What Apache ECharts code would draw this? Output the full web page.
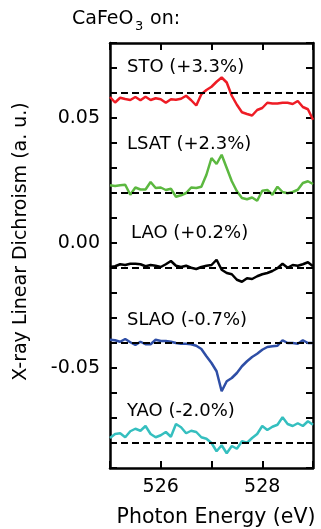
<!DOCTYPE html>
<html>
<head>
<meta charset="utf-8">
<script src="https://cdn.jsdelivr.net/npm/echarts@6/dist/echarts.min.js"></script>
<style>
  html, body { margin: 0; padding: 0; background: #fff; }
  #chart { width: 321px; height: 529px; }
</style>
</head>
<body>
<div id="chart"></div>
<script>
// photon energy grid (eV)
var energy = [525.0, 525.1, 525.2, 525.3, 525.4, 525.5, 525.6, 525.7, 525.8, 525.9,
  526.0, 526.1, 526.2, 526.3, 526.4, 526.5, 526.6, 526.7, 526.8, 526.9,
  527.0, 527.1, 527.2, 527.3, 527.4, 527.5, 527.6, 527.7, 527.8, 527.9,
  528.0, 528.1, 528.2, 528.3, 528.4, 528.5, 528.6, 528.7, 528.8, 528.9, 529.0];

// XLD spectra (offset)
var sto = [0.0584, 0.0562, 0.0581, 0.0576, 0.0572, 0.0584, 0.0571, 0.0585, 0.0572, 0.0579,
  0.0575, 0.0561, 0.0575, 0.0573, 0.0577, 0.0589, 0.0571, 0.0550, 0.0595, 0.0612,
  0.0625, 0.0645, 0.0662, 0.0642, 0.0589, 0.0553, 0.0523, 0.0516, 0.0510, 0.0532,
  0.0540, 0.0561, 0.0558, 0.0558, 0.0561, 0.0561, 0.0556, 0.0568, 0.0544, 0.0535, 0.0493];
var lsat = [0.0231, 0.0228, 0.0231, 0.0233, 0.0193, 0.0222, 0.0214, 0.0214, 0.0244, 0.0220,
  0.0222, 0.0212, 0.0217, 0.0185, 0.0191, 0.0200, 0.0222, 0.0220, 0.0225, 0.0273,
  0.0340, 0.0316, 0.0353, 0.0300, 0.0247, 0.0207, 0.0180, 0.0175, 0.0182, 0.0169,
  0.0209, 0.0212, 0.0193, 0.0225, 0.0204, 0.0199, 0.0204, 0.0213, 0.0240, 0.0247, 0.0236];
var lao = [-0.0096, -0.0093, -0.0085, -0.0088, -0.0083, -0.0083, -0.0085, -0.0093, -0.0088, -0.0091,
  -0.0096, -0.0085, -0.0072, -0.0091, -0.0096, -0.0091, -0.0099, -0.0104, -0.0096, -0.0091,
  -0.0088, -0.0067, -0.0107, -0.0120, -0.0125, -0.0147, -0.0155, -0.0141, -0.0144, -0.0133,
  -0.0125, -0.0120, -0.0112, -0.0101, -0.0083, -0.0099, -0.0088, -0.0091, -0.0085, -0.0077, -0.0093];
var slao = [-0.0387, -0.0389, -0.0395, -0.0384, -0.0397, -0.0408, -0.0395, -0.0405, -0.0405, -0.0387,
  -0.0392, -0.0392, -0.0395, -0.0400, -0.0403, -0.0403, -0.0405, -0.0411, -0.0424, -0.0453,
  -0.0480, -0.0513, -0.0593, -0.0553, -0.0540, -0.0520, -0.0493, -0.0473, -0.0456, -0.0443,
  -0.0427, -0.0416, -0.0413, -0.0411, -0.0389, -0.0400, -0.0400, -0.0403, -0.0389, -0.0400, -0.0400];
var yao = [-0.0780, -0.0764, -0.0761, -0.0777, -0.0753, -0.0743, -0.0751, -0.0732, -0.0764, -0.0777,
  -0.0769, -0.0756, -0.0775, -0.0724, -0.0737, -0.0761, -0.0751, -0.0756, -0.0777, -0.0783,
  -0.0800, -0.0833, -0.0809, -0.0841, -0.0812, -0.0823, -0.0793, -0.0799, -0.0780, -0.0764,
  -0.0732, -0.0748, -0.0735, -0.0727, -0.0697, -0.0724, -0.0732, -0.0721, -0.0732, -0.0713, -0.0727];

var names = ['STO (+3.3%)', 'LSAT (+2.3%)', 'LAO (+0.2%)', 'SLAO (-0.7%)', 'YAO (-2.0%)'];
var baselines = [0.058, 0.0215, -0.0096, -0.0393, -0.0763];
var xTickLabels = [526, 528];
var yTickLabels = [0.05, 0, -0.05];

var spectra = [sto, lsat, lao, slao, yao];
var colors = ['#ee1c25', '#5cb840', '#000000', '#2e4ea6', '#35bfbf'];
// label anchor (left, middle) for each sample name
var labelPos = [[127, 67], [127, 144], [131, 233.5], [127, 320.5], [127, 411]];

var FONT = '"DejaVu Sans"';

var frameAxis = {
  axisLine: { show: true, onZero: false, lineStyle: { color: '#000', width: 2.5 } },
  axisTick: { show: true, inside: true, length: 7, lineStyle: { color: '#000', width: 2 } },
  splitLine: { show: false },
};

var seriesData = spectra.map(function (vals, i) {
  return {
    type: 'line',
    name: names[i],
    data: vals.map(function (v, j) { return [energy[j], v]; }),
    showSymbol: false,
    smooth: false,
    lineStyle: { color: colors[i], width: 2.5 },
    itemStyle: { color: colors[i] },
    markLine: {
      silent: true,
      symbol: 'none',
      label: { show: false },
      lineStyle: { color: '#000', width: 2, type: [7, 4] },
      data: [{ yAxis: baselines[i] }],
    },
    z: 3,
  };
});

function txt(x, y, s, size, align) {
  return {
    type: 'text',
    x: x,
    y: y,
    style: {
      text: s,
      font: size + 'px ' + FONT,
      fill: '#000',
      textAlign: align || 'left',
      textVerticalAlign: 'middle',
    },
  };
}

var texts = names.map(function (n, i) {
  return txt(labelPos[i][0], labelPos[i][1], n, 18);
});

// title "CaFeO3 on:" with a subscript 3
texts.push(txt(72, 19, 'CaFeO', 19));
texts.push(txt(135, 26.5, '3', 13));
texts.push(txt(144, 19, ' on:', 19));

// axis names
var yName = txt(21, 241.5, 'X-ray Linear Dichroism (a. u.)', 19, 'center');
yName.rotation = Math.PI / 2;
texts.push(yName);
texts.push(txt(216, 518, 'Photon Energy (eV)', 20.5, 'center'));

var option = {
  animation: false,
  backgroundColor: '#fff',
  grid: { left: 110, right: 8, top: 43, bottom: 61 },
  xAxis: [
    Object.assign({}, frameAxis, {
      type: 'value',
      position: 'bottom',
      min: 525,
      max: 529,
      interval: 1,
      axisLabel: {
        margin: 10,
        fontFamily: FONT,
        fontSize: 19,
        color: '#000',
        formatter: function (v) {
          return xTickLabels.indexOf(Math.round(v)) !== -1 ? String(Math.round(v)) : '';
        },
      },
    }),
    Object.assign({}, frameAxis, {
      type: 'value',
      position: 'top',
      min: 525,
      max: 529,
      interval: 1,
      axisLabel: { show: false },
    }),
  ],
  yAxis: [
    Object.assign({}, frameAxis, {
      type: 'value',
      position: 'left',
      min: -0.09,
      max: 0.08,
      interval: 0.01,
      axisLabel: {
        margin: 10,
        fontFamily: FONT,
        fontSize: 19,
        color: '#000',
        formatter: function (v) {
          for (var k = 0; k < yTickLabels.length; k++) {
            if (Math.abs(v - yTickLabels[k]) < 1e-6) {
              return yTickLabels[k].toFixed(2);
            }
          }
          return '';
        },
      },
    }),
    Object.assign({}, frameAxis, {
      type: 'value',
      position: 'right',
      min: -0.09,
      max: 0.08,
      interval: 0.01,
      axisLabel: { show: false },
    }),
  ],
  graphic: texts,
  series: seriesData,
};

var myChart = echarts.init(document.getElementById('chart'));
myChart.setOption(option);
</script>
</body>
</html>
